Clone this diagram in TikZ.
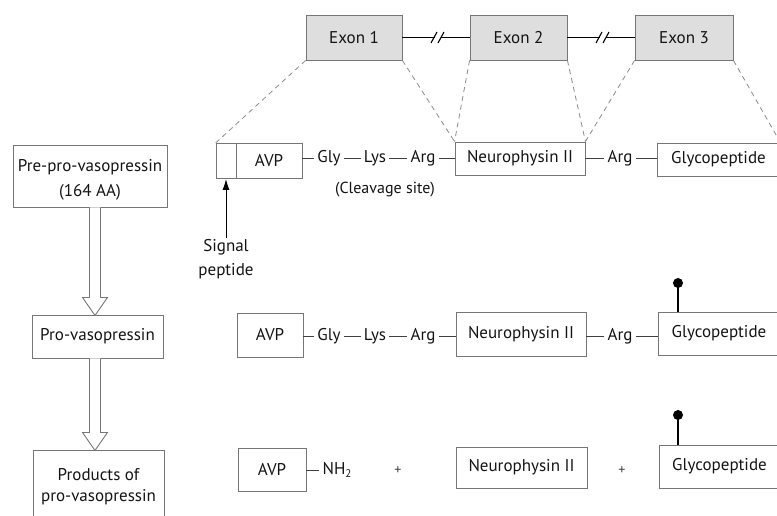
\documentclass[tikz,border=0pt]{standalone}
\usepackage{fontspec}
\setmainfont{PT Sans}
\usetikzlibrary{arrows.meta}
\definecolor{ink}{HTML}{141414}
\definecolor{edgecol}{HTML}{767676}
\definecolor{exfill}{HTML}{DEDEDE}
\definecolor{dashcol}{HTML}{8A8A8A}
\definecolor{bondcol}{HTML}{404040}
\begin{document}
\begin{tikzpicture}[x=1pt,y=-1pt,
  every node/.style={text=ink},
  box/.style={draw=edgecol, line width=0.9pt, inner sep=0pt, align=center,
              font=\fontsize{17}{25}\selectfont},
  exonbox/.style={box, fill=exfill},
  pep/.style={inner xsep=3pt, inner ysep=0pt, text height=12pt, text depth=3.5pt,
              font=\fontsize{17}{20}\selectfont},
  lbl/.style={inner sep=1pt, align=center, font=\fontsize{17}{24}\selectfont},
  plussign/.style={inner sep=0pt, text=bondcol, font=\fontsize{14}{16}\selectfont},
  bond/.style={draw=bondcol, line width=0.9pt},
  intron/.style={draw=black, line width=1.8pt},
  slashmark/.style={draw=black, line width=1.1pt},
  exondash/.style={draw=dashcol, line width=0.8pt, dash pattern=on 5pt off 4pt},
  hollow/.style={draw=edgecol, line width=0.9pt, fill=white, line join=miter},
  lollihead/.style={circle, fill=black, inner sep=0pt, minimum size=10pt},
  lollistem/.style={draw=black, line width=1.4pt}
]
\useasboundingbox (0,0) rectangle (777,515);
\clip (0,0) rectangle (777,515);

% ---------- exons ----------
\node[exonbox, minimum width=96pt, minimum height=45pt] (e1) at (354,37.5) {Exon 1};
\node[exonbox, minimum width=97pt, minimum height=45pt] (e2) at (518.5,37.5) {Exon 2};
\node[exonbox, minimum width=98pt, minimum height=45pt] (e3) at (684,37.5) {Exon 3};

\coordinate (i1a) at (435,37.5);
\coordinate (i1b) at (441,37.5);
\coordinate (i2a) at (600,37.5);
\coordinate (i2b) at (606,37.5);
\draw[intron] (e1.east) -- (i1a);
\draw[intron] (i1b) -- (e2.west);
\draw[intron] (e2.east) -- (i2a);
\draw[intron] (i2b) -- (e3.west);
\draw[slashmark] (431,43) -- (437,32);
\draw[slashmark] (438,43) -- (444,32);
\draw[slashmark] (596,43) -- (602,32);
\draw[slashmark] (603,43) -- (609,32);

% ---------- left column ----------
\node[box, minimum width=154pt, minimum height=62pt] (pre) at (90,176) {};
\node[lbl, font=\fontsize{17}{25}\selectfont] (pretext) at (90,180) {Pre-pro-vasopressin\\(164 AA)};
\node[box, minimum width=131pt, minimum height=43pt] (pro) at (97.5,336.5)
  {Pro-vasopressin};
\node[box, minimum width=131pt, minimum height=73pt,
      font=\fontsize{17}{21}\selectfont] (prod) at (98.5,486.5)
  {Products of\\pro-vasopressin};

\draw[hollow] ([xshift=5pt]pre.south) ++(-5.5,0) -- ++(0,90) -- ++(-7,0)
  -- ++(12.5,18) -- ++(12.5,-18) -- ++(-7,0) -- ++(0,-90);
\draw[hollow] ([xshift=-2.5pt]pro.south) ++(-5.5,0) -- ++(0,74) -- ++(-7,0)
  -- ++(12.5,18) -- ++(12.5,-18) -- ++(-7,0) -- ++(0,-74);

% ---------- row 1: pre-pro-vasopressin ----------
\node[box, minimum width=20pt, minimum height=35pt] (sig) at (226,161) {};
\node[box, minimum width=66pt, minimum height=35pt] (avp1) at (269,161) {AVP};
\node[pep] (gly1) at (329,158) {Gly};
\node[pep] (lys1) at (375,158) {Lys};
\node[pep] (arg1) at (423,158) {Arg};
\node[box, minimum width=130pt, minimum height=33pt] (n1) at (520,158.5) {Neurophysin II};
\node[pep] (arga1) at (620,158) {Arg};
\node[box, minimum width=123pt, minimum height=33pt] (g1) at (718.5,159.5) {Glycopeptide};

\draw[bond] (gly1.west -| avp1.east) -- (gly1.west);
\draw[bond] (gly1) -- (lys1);
\draw[bond] (lys1) -- (arg1);
\draw[bond] (arg1.east) -- (arg1.east -| n1.west);
\draw[bond] (arga1.west -| n1.east) -- (arga1.west);
\draw[bond] (arga1.east) -- (arga1.east -| g1.west);

\node[lbl, font=\fontsize{16}{20}\selectfont] (cleave) at (385,190) {(Cleavage site)};
\node[lbl] (siglab) at (226,259) {Signal\\peptide};
\draw[draw=black, line width=0.9pt, -{Latex[length=11pt,width=7pt]}] (siglab.north) -- (sig.south);

% dashed exon projections
\draw[exondash] (e1.south west) -- (sig.north west);
\draw[exondash] (e1.south east) -- (n1.north west);
\draw[exondash] (e2.south west) -- (n1.north west);
\draw[exondash] (e2.south east) -- (n1.north east);
\draw[exondash] (e3.south west) -- (n1.north east);
\draw[exondash] (e3.south east) -- (g1.north east);

% ---------- row 2: pro-vasopressin ----------
\node[box, minimum width=66pt, minimum height=44pt] (avp2) at (270,335) {AVP};
\node[pep] (gly2) at (329,336) {Gly};
\node[pep] (lys2) at (375,336) {Lys};
\node[pep] (arg2) at (423,336) {Arg};
\node[box, minimum width=130pt, minimum height=44pt] (n2) at (521,334.5) {Neurophysin II};
\node[pep] (arga2) at (620,336) {Arg};
\node[box, minimum width=122pt, minimum height=43pt] (g2) at (719,333.5) {Glycopeptide};

\draw[bond] (gly2.west -| avp2.east) -- (gly2.west);
\draw[bond] (gly2) -- (lys2);
\draw[bond] (lys2) -- (arg2);
\draw[bond] (arg2.east) -- (arg2.east -| n2.west);
\draw[bond] (arga2.west -| n2.east) -- (arga2.west);
\draw[bond] (arga2.east) -- (arga2.east -| g2.west);

\node[lollihead] (l2) at (678,283) {};
\draw[lollistem] (l2.center) -- (l2.center |- g2.north);

% ---------- row 3: products ----------
\node[box, minimum width=68pt, minimum height=43pt] (avp3) at (272,469.5) {AVP};
\node[pep] (nh) at (337,470) {NH\raisebox{-3pt}{\fontsize{11}{12}\selectfont 2}};
\node[plussign] (plus1) at (398,471) {+};
\node[box, minimum width=131pt, minimum height=41pt] (n3) at (521.5,467.5) {Neurophysin II};
\node[plussign] (plus2) at (622,471) {+};
\node[box, minimum width=121pt, minimum height=43pt] (g3) at (719.5,466.5) {Glycopeptide};

\draw[bond] (nh.west -| avp3.east) -- (nh.west);

\node[lollihead] (l3) at (678,415) {};
\draw[lollistem] (l3.center) -- (l3.center |- g3.north);
\end{tikzpicture}
\end{document}
